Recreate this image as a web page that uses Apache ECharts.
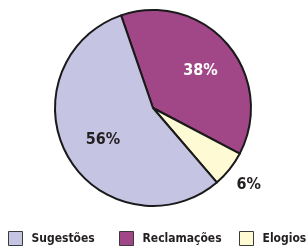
<!DOCTYPE html>
<html>
<head>
<meta charset="utf-8">
<script src="https://cdn.jsdelivr.net/npm/echarts@6/dist/echarts.min.js"></script>
<style>
	html, body { margin: 0; padding: 0; background: #fff; }
	#chart { width: 307px; height: 249px; }
</style>
</head>
<body>
<div id="chart"></div>
<script>
	// categories in drawing order (clockwise from the top boundary)
	const categories = ["Reclamações", "Elogios", "Sugestões"]
	const values = [38, 6, 56]
	const legendOrder = ["Sugestões", "Reclamações", "Elogios"]
	const legendLeft = [8, 119, 239]
	const colors = { "Sugestões": "#c6c4e3", "Reclamações": "#a14686", "Elogios": "#fefad3" }

	const font = "'DejaVu Sans Condensed', 'Liberation Sans Narrow', sans-serif"

	// label tweaks per slice
	const labelStyle = {
		"Reclamações": { color: "#ffffff", offset: [8, -3] },
		"Elogios": { color: "#231f20", offset: [55, 44] },
		"Sugestões": { color: "#231f20", offset: [-5, 6] }
	}

	const chart = echarts.init(document.getElementById("chart"))
	chart.setOption({
		animation: false,
		legend: legendOrder.map((name, i) => ({
			data: [name],
			top: 231,
			left: legendLeft[i],
			padding: 0,
			itemWidth: 14,
			itemHeight: 14,
			itemGap: 0,
			icon: "rect",
			itemStyle: { borderColor: "#3a3a3a", borderWidth: 1 },
			textStyle: {
				fontFamily: font,
				fontWeight: "bold",
				fontSize: 12,
				color: "#231f20",
				padding: [0, 0, 0, 4]
			}
		})),
		series: [
			{
				type: "pie",
				center: [153, 108],
				radius: 98,
				startAngle: 109,
				clockwise: true,
				silent: true,
				itemStyle: {
					borderColor: "#1a1a1a",
					borderWidth: 2
				},
				label: {
					position: "inside",
					formatter: "{c}%",
					fontFamily: font,
					fontWeight: "bold",
					fontSize: 16
				},
				labelLine: { show: false },
				data: categories.map((name, i) => ({
					name: name,
					value: values[i],
					itemStyle: { color: colors[name] },
					label: labelStyle[name]
				}))
			}
		]
	})
</script>
</body>
</html>
